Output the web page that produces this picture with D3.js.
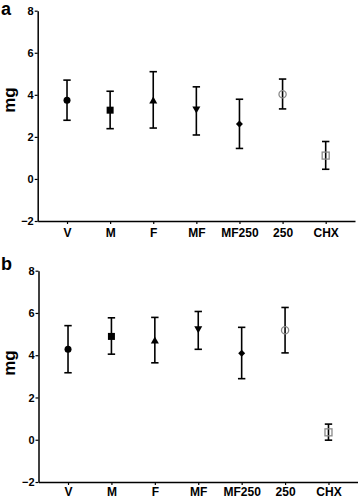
<!DOCTYPE html>
<html>
<head>
<meta charset="utf-8">
<script src="https://cdn.jsdelivr.net/npm/d3@7"></script>
<style>
  body { margin: 0; background: #fff; }
  svg { display: block; font-family: "Liberation Sans", Arial, sans-serif; }
</style>
</head>
<body>
<svg id="chart" width="358" height="499"></svg>
<script>
const categories = ["V", "M", "F", "MF", "MF250", "250", "CHX"];
const symbols = ["circle", "square", "triangle", "triangleDown", "diamond", "openCircle", "openSquare"];
const yTicks = [-2, 0, 2, 4, 6, 8];

const meanA = [3.74, 3.27, 3.71, 3.32, 2.61, 4.03, 1.11];
const upperA = [4.70, 4.17, 5.10, 4.38, 3.79, 4.75, 1.78];
const lowerA = [2.79, 2.39, 2.42, 2.09, 1.45, 3.33, 0.46];

const meanB = [4.28, 4.89, 4.67, 5.25, 4.09, 5.18, 0.35];
const upperB = [5.40, 5.77, 5.79, 6.07, 5.32, 6.26, 0.74];
const lowerB = [3.17, 4.05, 3.64, 4.28, 2.89, 4.11, -0.02];

const svg = d3.select("#chart");

function panel(letter, mean, upper, lower, cfg) {
  const g = svg.append("g");
  const x = d3.scalePoint().domain(categories).range([cfg.x0, cfg.x1]).padding(0.68);
  const y = d3.scaleLinear().domain([-2, 8]).range([cfg.yBottom, cfg.yTop]);

  // Y axis
  const ya = g.append("g").attr("transform", `translate(${cfg.x0},0)`)
    .call(d3.axisLeft(y).tickValues(yTicks).tickSize(3).tickPadding(1).tickSizeOuter(0));
  ya.select(".domain").attr("stroke", "#000").attr("stroke-width", 1.5);
  ya.selectAll(".tick line").attr("stroke", "#000").attr("stroke-width", 1.2);
  ya.selectAll(".tick text").attr("font-size", 11).attr("font-weight", "bold").attr("fill", "#000")
    .attr("font-family", "Liberation Sans, Arial, sans-serif");

  // X axis
  const xa = g.append("g").attr("transform", `translate(0,${cfg.yBottom})`)
    .call(d3.axisBottom(x).tickSize(3).tickPadding(cfg.xPad).tickSizeOuter(0));
  xa.select(".domain").attr("stroke", "#000").attr("stroke-width", 1.5);
  xa.selectAll(".tick line").attr("stroke", "#000").attr("stroke-width", 1.2);
  xa.selectAll(".tick text").attr("font-size", 12).attr("font-weight", "bold").attr("fill", "#000")
    .attr("font-family", "Liberation Sans, Arial, sans-serif");

  // Panel letter
  g.append("text").attr("x", 1).attr("y", cfg.letterY).text(letter)
    .attr("font-size", 18).attr("font-weight", "bold").attr("fill", "#000");

  // y label
  g.append("text")
    .attr("transform", `translate(15,${cfg.labelY}) rotate(-90)`)
    .attr("text-anchor", "middle")
    .attr("font-size", 17).attr("font-weight", "bold").attr("fill", "#000")
    .text("mg");

  const data = categories.map((c, i) => ({c, m: mean[i], u: upper[i], l: lower[i], s: symbols[i]}));
  const cap = 3.7;

  const eb = g.append("g");
  data.forEach(d => {
    const cx = x(d.c);
    eb.append("line").attr("x1", cx).attr("x2", cx).attr("y1", y(d.u)).attr("y2", y(d.l))
      .attr("stroke", "#000").attr("stroke-width", 1.6);
    [d.u, d.l].forEach(v => {
      eb.append("line").attr("x1", cx - cap).attr("x2", cx + cap).attr("y1", y(v)).attr("y2", y(v))
        .attr("stroke", "#000").attr("stroke-width", 1.6);
    });
  });

  const mk = g.append("g");
  data.forEach(d => {
    const cx = x(d.c), cy = y(d.m);
    if (d.s === "circle") {
      mk.append("circle").attr("cx", cx).attr("cy", cy).attr("r", 3.5).attr("fill", "#000");
    } else if (d.s === "square") {
      mk.append("rect").attr("x", cx - 3.5).attr("y", cy - 3.5).attr("width", 7).attr("height", 7).attr("fill", "#000");
    } else if (d.s === "triangle") {
      mk.append("path").attr("d", `M${cx},${cy - 4.5}L${cx + 4},${cy + 2.5}L${cx - 4},${cy + 2.5}Z`).attr("fill", "#000");
    } else if (d.s === "triangleDown") {
      mk.append("path").attr("d", `M${cx},${cy + 4.5}L${cx + 4},${cy - 2.5}L${cx - 4},${cy - 2.5}Z`).attr("fill", "#000");
    } else if (d.s === "diamond") {
      mk.append("path").attr("d", `M${cx},${cy - 3.5}L${cx + 3.5},${cy}L${cx},${cy + 3.5}L${cx - 3.5},${cy}Z`).attr("fill", "#000");
    } else if (d.s === "openCircle") {
      mk.append("circle").attr("cx", cx).attr("cy", cy).attr("r", 3.6)
        .attr("fill", "none").attr("stroke", "#8a8a8a").attr("stroke-width", 1.3);
    } else if (d.s === "openSquare") {
      mk.append("rect").attr("x", cx - 3.5).attr("y", cy - 3.5).attr("width", 7).attr("height", 7)
        .attr("fill", "none").attr("stroke", "#8a8a8a").attr("stroke-width", 1.3);
    }
  });
}

panel("a", meanA, upperA, lowerA, {x0: 37.7, x1: 355, yTop: 10.7, yBottom: 221, letterY: 15, labelY: 100, xPad: 4});
panel("b", meanB, upperB, lowerB, {x0: 38.5, x1: 358, yTop: 270.7, yBottom: 482, letterY: 270, labelY: 363, xPad: 2});
</script>
</body>
</html>
